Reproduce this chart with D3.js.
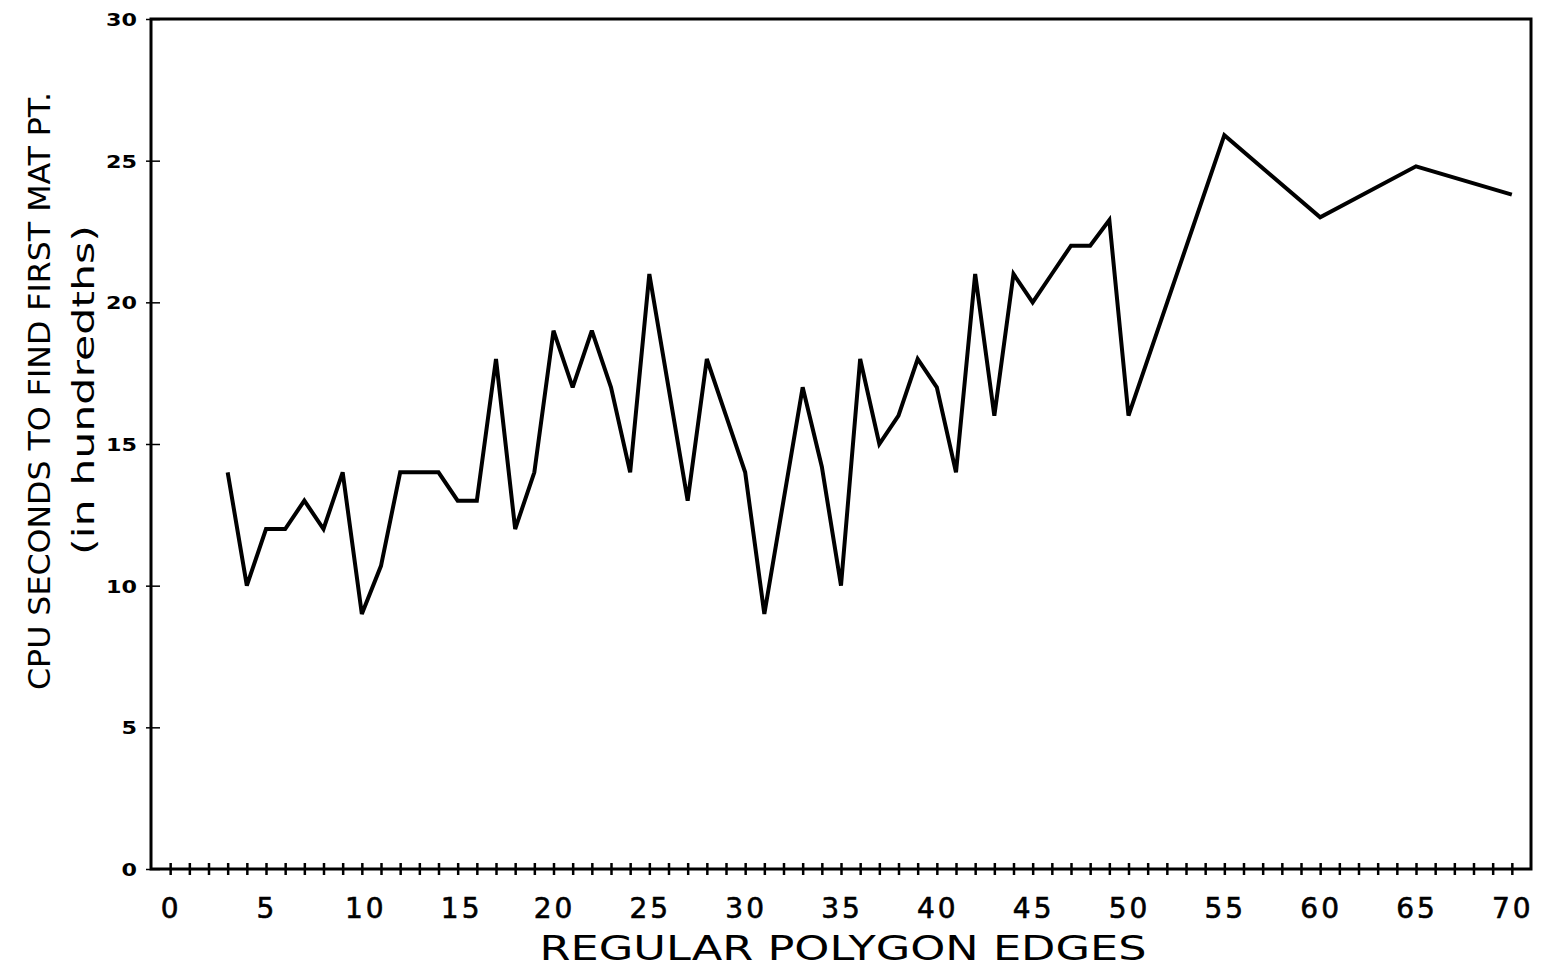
<!DOCTYPE html>
<html>
<head>
<meta charset="utf-8">
<script src="https://cdn.jsdelivr.net/npm/d3@7"></script>
<style>
body { margin: 0; background: #fff; }
</style>
</head>
<body>
<div id="chart"></div>
<script>
// size of SVG
var w = 1541;
var h = 969;

// polygon edges (x) and cpu time in hundredths of a second (y)
var edges = [3, 4, 5, 6, 7, 8, 9, 10, 11, 12, 13, 14, 15, 16, 17, 18, 19, 20,
  21, 22, 23, 24, 25, 26, 27, 28, 29, 30, 31, 32, 33, 34, 35, 36, 37, 38, 39, 40,
  41, 42, 43, 44, 45, 46, 47, 48, 49, 50, 55, 60, 65, 70];
var cpuTime = [14, 10, 12, 12, 13, 12, 14, 9, 10.7, 14, 14, 14, 13, 13, 18, 12, 14, 19,
  17, 19, 17, 14, 21, 17, 13, 18, 16, 14, 9, 13, 17, 14.2, 10, 18, 15, 16, 18, 17,
  14, 21, 16, 21, 20, 21, 22, 22, 22.9, 16, 25.9, 23, 24.8, 23.8];

var xTicks = d3.range(0, 71);          // small tick at every edge count
var xLabels = d3.range(0, 71, 5);      // labelled every 5
var yTicks = [0, 5, 10, 15, 20, 25, 30];

var xTitle = "REGULAR POLYGON EDGES";
var yTitle1 = "CPU SECONDS TO FIND FIRST MAT PT.";
var yTitle2 = "(in hundredths)";

var svg = d3.select("#chart")
  .append("svg")
  .attr("width", w)
  .attr("height", h)
  .attr("xmlns", "http://www.w3.org/2000/svg");

// plot area (note: "top" is taken by window.top, so prefix these)
var pLeft = 151, pRight = 1531, pTop = 19, pBottom = 869;

var x = d3.scaleLinear().domain([-1, 71]).range([pLeft, pRight]);
var y = d3.scaleLinear().domain([0, 30]).range([pBottom, pTop]);

// frame
svg.append("rect")
  .attr("x", pLeft)
  .attr("y", pTop)
  .attr("width", pRight - pLeft)
  .attr("height", pBottom - pTop)
  .attr("fill", "none")
  .attr("stroke", "#000")
  .attr("stroke-width", 3);

// x axis with crossing ticks
var xAxis = svg.append("g")
  .attr("transform", "translate(0," + pBottom + ")")
  .call(d3.axisBottom(x).tickValues(xTicks).tickSize(6).tickFormat(""));
xAxis.select(".domain").remove();
xAxis.selectAll(".tick line")
  .attr("y1", -6)
  .attr("y2", 6)
  .attr("stroke", "#000")
  .attr("stroke-width", 2.5);

svg.append("g").selectAll("text")
  .data(xLabels)
  .enter().append("text")
  .attr("x", function(d) { return x(d) + (d >= 10 && d < 20 ? 4 : 1); })
  .attr("y", 918)
  .attr("text-anchor", "middle")
  .attr("font-family", "DejaVu Sans, sans-serif")
  .attr("font-size", 28)
  .attr("letter-spacing", 3)
  .attr("stroke", "#000")
  .attr("stroke-width", 0.6)
  .attr("fill", "#000")
  .text(function(d) { return d; });

// y axis
var yAxis = svg.append("g")
  .attr("transform", "translate(" + pLeft + ",0)")
  .call(d3.axisLeft(y).tickValues(yTicks).tickSize(5).tickPadding(9));
yAxis.select(".domain").remove();
yAxis.selectAll(".tick line")
  .attr("x1", -5)
  .attr("x2", 9)
  .attr("stroke", "#000")
  .attr("stroke-width", 1.5);
yAxis.selectAll(".tick text")
  .attr("x", -14)
  .attr("dy", "0.36em")
  .attr("font-family", "DejaVu Sans, sans-serif")
  .attr("font-weight", "bold")
  .attr("font-size", 18)
  .attr("textLength", function(d) { return String(d).length * 15.5; })
  .attr("lengthAdjust", "spacingAndGlyphs")
  .attr("fill", "#000");

// the data line
var line = d3.line()
  .x(function(d, i) { return x(edges[i]); })
  .y(function(d) { return y(d); });

svg.append("path")
  .datum(cpuTime)
  .attr("d", line)
  .attr("fill", "none")
  .attr("stroke", "#000")
  .attr("stroke-width", 4)
  .attr("stroke-linejoin", "miter")
  .attr("stroke-miterlimit", 3);

// titles
svg.append("text")
  .attr("x", 843)
  .attr("y", 960)
  .attr("text-anchor", "middle")
  .attr("font-family", "DejaVu Sans, sans-serif")
  .attr("font-size", 33)
  .attr("textLength", 607)
  .attr("lengthAdjust", "spacingAndGlyphs")
  .attr("fill", "#000")
  .text(xTitle);

svg.append("text")
  .attr("transform", "translate(50,391) rotate(-90)")
  .attr("text-anchor", "middle")
  .attr("font-family", "DejaVu Sans, sans-serif")
  .attr("font-stretch", "condensed")
  .attr("font-size", 30)
  .attr("textLength", 598)
  .attr("lengthAdjust", "spacingAndGlyphs")
  .attr("fill", "#000")
  .text(yTitle1);

svg.append("text")
  .attr("transform", "translate(94,390) rotate(-90)")
  .attr("text-anchor", "middle")
  .attr("font-family", "DejaVu Sans, sans-serif")
  .attr("font-stretch", "condensed")
  .attr("font-size", 30)
  .attr("textLength", 330)
  .attr("lengthAdjust", "spacingAndGlyphs")
  .attr("fill", "#000")
  .text(yTitle2);
</script>
</body>
</html>
